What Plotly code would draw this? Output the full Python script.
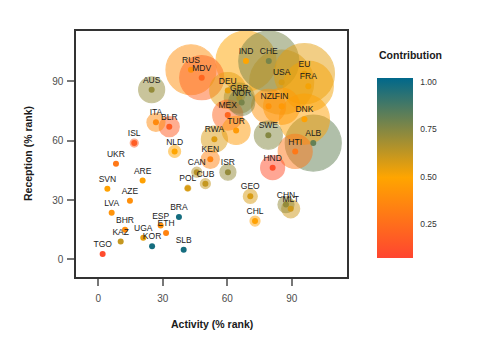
import plotly.graph_objects as go

countries = ["AUS","RUS","MDV","IND","CHE","USA","EU","FRA","DEU","GBR","NOR","MEX","TUR",
             "NZL","FIN","DNK","SWE","ALB","HTI","HND","RWA","ITA","BLR","ISL","NLD","KEN",
             "CAN","ISR","CUB","POL","GEO","CHL","CHN","MLT","UKR","ARE","SVN","AZE","LVA",
             "BHR","KAZ","TGO","UGA","KOR","ESP","ETH","BRA","SLB"]
activity = [24.8,43.1,48.1,68.7,79.3,85.3,95.9,97.7,60.2,65.6,66.7,60.2,64.1,
            79.2,85.3,95.9,79.1,100.0,91.6,81.1,54.0,26.8,33.0,16.7,35.5,52.1,
            45.8,60.3,49.8,41.6,70.7,72.9,87.3,89.5,8.2,20.6,4.2,14.7,6.2,
            12.4,10.4,2.0,20.9,25.0,29.0,31.5,37.5,39.7]
reception = [85.8,95.9,91.9,100.3,100.3,89.6,93.9,87.6,85.4,81.6,79.4,73.0,65.2,
             77.4,77.4,70.9,62.8,58.8,54.6,46.4,60.8,69.3,67.1,58.8,54.6,50.6,
             44.1,44.1,38.3,36.0,31.9,19.4,27.7,25.6,48.4,39.9,35.7,29.7,23.6,
             15.0,9.1,2.7,11.0,6.7,17.2,13.3,21.4,4.9]
contribution = [0.72,0.40,0.22,0.50,0.78,0.58,0.55,0.52,0.55,0.68,0.78,0.22,0.45,
                0.42,0.45,0.48,0.75,0.82,0.30,0.12,0.57,0.38,0.18,0.18,0.50,0.35,
                0.65,0.72,0.62,0.58,0.58,0.48,0.72,0.60,0.30,0.48,0.48,0.40,0.42,
                0.40,0.62,0.10,0.55,0.98,0.40,0.35,0.98,0.98]
weight = [169,625,484,900,900,1024,900,625,324,225,169,225,196,
          289,324,625,196,784,289,144,169,81,100,16,36,81,
          25,64,25,9,49,25,64,81,0,0,0,0,0,
          0,0,0,0,0,0,0,0,0]

CMIN, CMAX = 0.075, 1.024
cscale = [[0.0, "#FF4530"], [0.447, "#FFA500"], [1.0, "#00688B"]]
FONT = "Liberation Sans, Arial, sans-serif"

# halos drawn largest first
order = sorted(range(len(countries)), key=lambda i: -weight[i])
halo_idx = [i for i in order if weight[i] > 0]

fig = go.Figure()
fig.add_trace(go.Scatter(
    x=[activity[i] for i in halo_idx],
    y=[reception[i] for i in halo_idx],
    mode="markers",
    hoverinfo="skip",
    showlegend=False,
    marker=dict(
        size=[weight[i] for i in halo_idx],
        sizemode="area", sizeref=0.5,
        color=[contribution[i] for i in halo_idx],
        colorscale=cscale, cmin=CMIN, cmax=CMAX,
        opacity=0.5,
        line=dict(width=1.2, color=[contribution[i] for i in halo_idx],
                  colorscale=cscale, cmin=CMIN, cmax=CMAX),
    ),
))
fig.add_trace(go.Scatter(
    x=activity, y=reception, text=countries,
    mode="markers+text",
    textposition="top center",
    textfont=dict(family=FONT, size=8.5, color="#1a1a1a"),
    showlegend=False,
    marker=dict(
        size=6, color=contribution, colorscale=cscale, cmin=CMIN, cmax=CMAX,
        line=dict(width=0),
        showscale=True,
        colorbar=dict(
            x=(376.7 - 76) / 271, xanchor="left", xpad=0,
            y=0.445, yanchor="middle", ypad=0,
            thickness=36, len=180, lenmode="pixels",
            outlinewidth=0,
            tickvals=[0.25, 0.5, 0.75, 1.0],
            ticktext=["0.25", "0.50", "0.75", "1.00"],
            ticks="outside", ticklen=6, tickcolor="rgba(0,0,0,0)",
            tickfont=dict(family=FONT, size=8.5, color="#333333"),
        ),
    ),
))

axis_common = dict(
    showgrid=False, zeroline=False, showline=True, mirror=True,
    linecolor="#333333", linewidth=1.5,
    ticks="outside", ticklen=7, tickwidth=1.5, tickcolor="#777777",
    tickfont=dict(family=FONT, size=10, color="#4d4d4d"),
    tickvals=[0, 30, 60, 90],
)
fig.update_xaxes(range=[-10.4, 115.7], ticklabelstandoff=4, **axis_common)
fig.update_yaxes(range=[-8.9, 115.5], ticklabelstandoff=2, **axis_common)

fig.update_layout(
    width=500, height=350,
    margin=dict(l=76, r=153, t=31, b=73, pad=0),
    plot_bgcolor="white", paper_bgcolor="white",
    font=dict(family=FONT),
    annotations=[
        dict(text="<b>Activity (% rank)</b>", xref="paper", yref="paper",
             x=0.5, y=0, yanchor="middle", yshift=-46.6, showarrow=False,
             font=dict(family=FONT, size=10.5, color="#1a1a1a")),
        dict(text="<b>Reception (% rank)</b>", xref="paper", yref="paper",
             x=0, y=0.5, xanchor="center", xshift=-48, textangle=-90,
             showarrow=False, font=dict(family=FONT, size=10.5, color="#1a1a1a")),
        dict(text="<b>Contribution</b>", xref="paper", yref="paper",
             x=(376.7 - 76) / 271, xanchor="left", y=1 - (55 - 31) / 246,
             yanchor="middle", showarrow=False,
             font=dict(family=FONT, size=10.5, color="#1a1a1a")),
    ],
)

fig.write_html("out.html")
